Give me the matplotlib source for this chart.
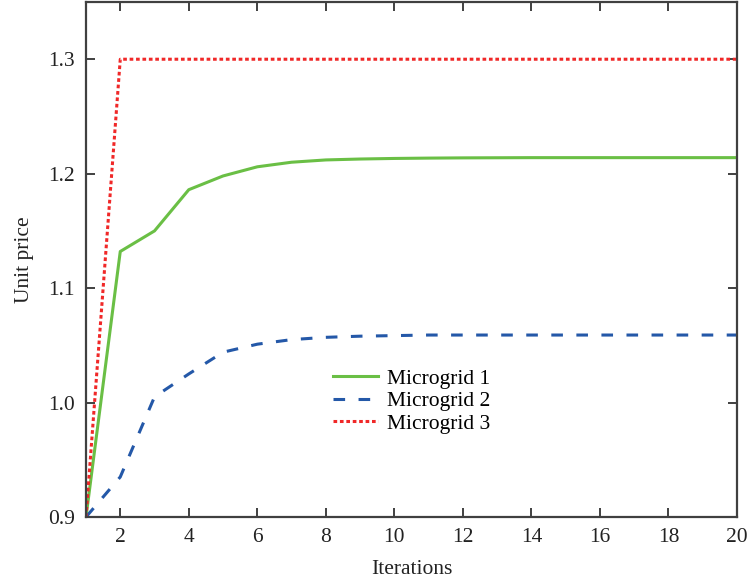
import matplotlib
matplotlib.use("Agg")
import matplotlib.pyplot as plt

# ====== Dữ liệu ======
iterations = list(range(1, 21))
microgrid1 = [0.900, 1.132, 1.150, 1.186, 1.198, 1.206, 1.210, 1.212, 1.2128, 1.2133,
              1.2136, 1.2138, 1.2139, 1.214, 1.214, 1.214, 1.214, 1.214, 1.214, 1.214]
microgrid2 = [0.900, 0.935, 1.005, 1.025, 1.044, 1.051, 1.055, 1.057, 1.058, 1.0585,
              1.059, 1.059, 1.059, 1.059, 1.059, 1.059, 1.059, 1.059, 1.059, 1.059]
microgrid3 = [0.900] + [1.300] * 19
labels = ["Microgrid 1", "Microgrid 2", "Microgrid 3"]

plt.rcParams["font.family"] = ["Liberation Serif", "DejaVu Serif"]
plt.rcParams["font.size"] = 15.5

fig = plt.figure(figsize=(7.47, 5.83), dpi=100)
ax = fig.add_axes([86 / 747, 66 / 583, 651 / 747, 515 / 583])

ax.plot(iterations, microgrid1, color="#6abf45", lw=2.2, label=labels[0])
ax.plot(iterations, microgrid2, color="#2458a8", lw=2.2, ls=(0, (3.8, 4.4)), label=labels[1])
ax.plot(iterations, microgrid3, color="#f02828", lw=2.2, ls=(0, (1.2, 0.9)), label=labels[2])

ax.set_xlim(1, 20)
ax.set_ylim(0.9, 1.35)
ax.set_xticks(range(2, 21, 2))
ax.set_yticks([0.9, 1.0, 1.1, 1.2, 1.3])
ax.set_yticklabels(["0.9", "1.0", "1.1", "1.2", "1.3"])

edge = "#404040"
for s in ax.spines.values():
    s.set_color(edge)
    s.set_linewidth(1.6)
ax.tick_params(direction="in", length=6.5, width=1.4, color=edge,
               top=True, right=True, labelcolor="#222222", pad=8)

ax.set_xlabel("Iterations", labelpad=9, color="#222222")
ax.set_ylabel("Unit price", labelpad=10, color="#222222")

ax.legend(loc="center left", bbox_to_anchor=(0.379, 0.225), frameon=False,
          borderpad=0, borderaxespad=0, handlelength=2.1, handletextpad=0.4,
          labelspacing=0.12, fontsize=15.5)

fig.savefig("out.png", dpi=100)
